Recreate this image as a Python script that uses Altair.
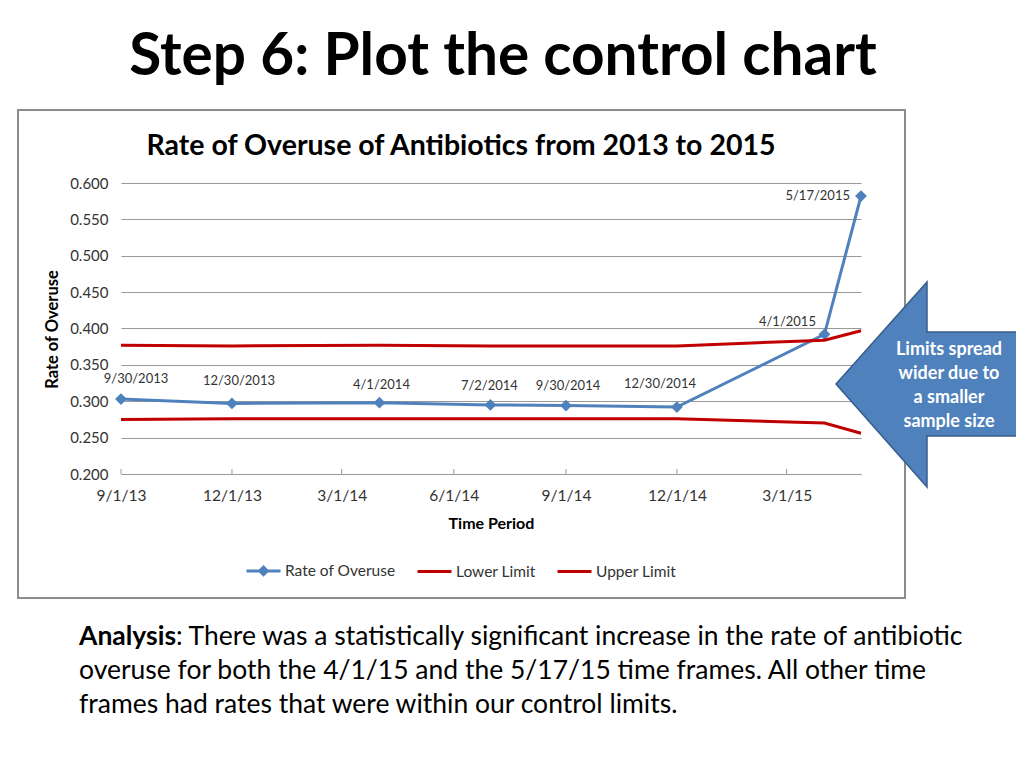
import altair as alt
import pandas as pd

# ---- data ----
period_labels = ["9/30/2013", "12/30/2013", "4/1/2014", "7/2/2014",
                 "9/30/2014", "12/30/2014", "4/1/2015", "5/17/2015"]
rate_of_overuse = [0.303, 0.297, 0.298, 0.295, 0.294, 0.292, 0.392, 0.582]
lower_limit = [0.275, 0.276, 0.276, 0.276, 0.276, 0.276, 0.270, 0.256]
upper_limit = [0.377, 0.376, 0.377, 0.376, 0.376, 0.376, 0.384, 0.397]
series_names = ["Rate of Overuse", "Lower Limit", "Upper Limit"]
series_colors = ["#4f81bd", "#c00000", "#c00000"]
axis_tick_dates = ["2013-09-01", "2013-12-01", "2014-03-01", "2014-06-01",
                   "2014-09-01", "2014-12-01", "2015-03-01"]
y_ticks = [0.2, 0.25, 0.3, 0.35, 0.4, 0.45, 0.5, 0.55, 0.6]

slide_title = "Step 6: Plot the control chart"
chart_title = "Rate of Overuse of Antibiotics from 2013 to 2015"
callout_text = "Limits spread\nwider due to\na smaller\nsample size"
analysis_bold = "Analysis"
analysis_lines = [
    ": There was a statistically significant increase in the rate of antibiotic",
    "overuse for both the 4/1/15 and the 5/17/15 time frames. All other time",
    "frames had rates that were within our control limits.",
]

FONT = "Lato"
W, H = 740, 291

iso = pd.to_datetime(period_labels, format="%m/%d/%Y").strftime("%Y-%m-%d")
rows = []
for name, vals in zip(series_names, [rate_of_overuse, lower_limit, upper_limit]):
    for lab, d, v in zip(period_labels, iso, vals):
        rows.append({"label": lab, "date": d, "series": name, "value": v})
df = pd.DataFrame(rows)
rate_df = df[df.series == "Rate of Overuse"]
limits_df = df[df.series != "Rate of Overuse"]
ticks_df = pd.DataFrame({"date": axis_tick_dates})
one = pd.DataFrame({"k": [0]})

x_scale = alt.Scale(type="utc", domain=[alt.DateTime(year=2013, month=9, date=1, utc=True),
                                        alt.DateTime(year=2015, month=5, date=1, utc=True)])
y_scale = alt.Scale(domain=[0.2, 0.6], nice=False, zero=False)

x_axis = alt.Axis(
    values=[alt.DateTime(year=int(d[:4]), month=int(d[5:7]), date=1, utc=True) for d in axis_tick_dates],
    labelExpr="utcFormat(datum.value, '%-m/%-d/%y')",
    grid=False, tickSize=0, labelPadding=14, labelFontSize=15.5, labelColor="#333333",
    labelFont=FONT, labelFlush=False, domainColor="#999999", domainWidth=1,
    title="Time Period", titleFont=FONT, titleFontSize=16, titleFontWeight="bold",
    titleColor="#000000", titleY=49, titleBaseline="middle",
)
y_axis = alt.Axis(
    values=y_ticks, format=".3f", grid=True, gridColor="#999999", gridWidth=1,
    domain=False, ticks=False, labelPadding=13, labelFontSize=15, labelColor="#333333",
    labelFont=FONT,
    title="Rate of Overuse", titleFont=FONT, titleFontSize=16.5, titleFontWeight="bold",
    titleColor="#000000", titleX=-69, titleY=146, titleBaseline="middle", titleAngle=-90,
)

X = alt.X("date:T", timeUnit="utcyearmonth", scale=x_scale, axis=x_axis)
Y = alt.Y("value:Q", scale=y_scale, axis=y_axis)

legend = alt.Legend(
    title=None, orient="none", legendX=124, legendY=369, direction="horizontal",
    columns=3, columnPadding=15, labelFont=FONT, labelFontSize=15.5, labelColor="#333333",
    labelOffset=3, symbolSize=1156, symbolStrokeWidth=3, padding=0,
)
diamond_line = "M-1,0H1M-0.22,0L0,-0.22L0.22,0L0,0.22Z"

# decorations
border = alt.Chart(one).mark_rect(fill="transparent", stroke="#8c8c8c", strokeWidth=2).encode(
    x=alt.value(-103), x2=alt.value(784), y=alt.value(-73), y2=alt.value(415))
title_mark = alt.Chart(one).mark_text(font=FONT, fontSize=58.5, fontWeight="bold", color="#000000",
                                      align="center", baseline="alphabetic").encode(
    x=alt.value(382), y=alt.value(-108), text=alt.value(slide_title))
ctitle_mark = alt.Chart(one).mark_text(font=FONT, fontSize=28.5, fontWeight="bold", color="#000000",
                                       align="center", baseline="alphabetic").encode(
    x=alt.value(340), y=alt.value(-28), text=alt.value(chart_title))

# x axis tick marks (inside)
tick_marks = alt.Chart(ticks_df).mark_rule(color="#999999", strokeWidth=1).encode(
    x=alt.X("date:T", timeUnit="utcyearmonth", scale=x_scale, axis=x_axis),
    y=alt.value(H - 5), y2=alt.value(H))

# legend carrier (no rows drawn, domain fixed by the scale)
legend_layer = alt.Chart(df.iloc[0:0]).mark_point(filled=False, strokeWidth=3, opacity=1).encode(
    x=X, y=Y,
    color=alt.Color("series:N", scale=alt.Scale(domain=series_names, range=series_colors),
                    legend=legend),
    shape=alt.Shape("series:N", scale=alt.Scale(domain=series_names,
                                                range=[diamond_line, "stroke", "stroke"]),
                    legend=legend),
)
blue_line = alt.Chart(rate_df).mark_line(strokeWidth=3, color="#4f81bd").encode(x=X, y=Y)
red_lines = alt.Chart(limits_df).mark_line(strokeWidth=3, color="#c00000").encode(
    x=X, y=Y, detail="series:N")
points = alt.Chart(rate_df).mark_point(shape="diamond", filled=True, size=140, opacity=1,
                                       color="#4f81bd").encode(x=X, y=Y)

label_offsets = {
    "9/30/2013": (15, -20, "center"), "12/30/2013": (7, -22, "center"),
    "4/1/2014": (2, -18, "center"), "7/2/2014": (-1, -19, "center"),
    "9/30/2014": (2, -20, "center"), "12/30/2014": (-17, -23, "center"),
    "4/1/2015": (-37, -12, "center"), "5/17/2015": (-11, 0, "right"),
}
label_layers = []
for lab, (dx, dy, al) in label_offsets.items():
    label_layers.append(
        alt.Chart(rate_df[rate_df.label == lab]).mark_text(
            font=FONT, fontSize=13, color="#333333", dx=dx, dy=dy, align=al, baseline="middle"
        ).encode(x=X, y=Y, text="label:N"))

arrow = alt.Chart(one).mark_point(
    shape="M-91,0L0,-102L0,-52L91,-52L91,52L0,52L0,103Z", size=4, filled=True,
    fill="#4f81bd", stroke="#385d8a", strokeWidth=1.5, opacity=1).encode(
    x=alt.value(806), y=alt.value(201))
callout = alt.Chart(one).mark_text(font=FONT, fontSize=18, fontWeight="bold", color="white",
                                   align="center", baseline="middle", lineBreak="\n",
                                   lineHeight=24).encode(
    x=alt.value(828), y=alt.value(167), text=alt.value(callout_text))

def text_line(txt, x, y, weight="normal"):
    return alt.Chart(one).mark_text(font=FONT, fontSize=26.5, fontWeight=weight, color="#000000",
                                    align="left", baseline="alphabetic").encode(
        x=alt.value(x), y=alt.value(y), text=alt.value(txt))

analysis = [
    text_line(analysis_bold, -42, 462, "bold"),
    text_line(analysis_lines[0], 55, 462),
    text_line(analysis_lines[1], -42, 496),
    text_line(analysis_lines[2], -42, 530),
]

chart = alt.layer(
    border, title_mark, ctitle_mark, tick_marks, legend_layer, blue_line, points, red_lines,
    *label_layers, arrow, callout, *analysis
).properties(
    width=W, height=H,
    padding={"left": 113, "top": 175, "right": 155, "bottom": 286},
    autosize=alt.AutoSizeParams(type="none"),
    background="white",
).configure_view(stroke=None)

chart.save("out.html", embed_options={"renderer": "svg", "actions": False})
